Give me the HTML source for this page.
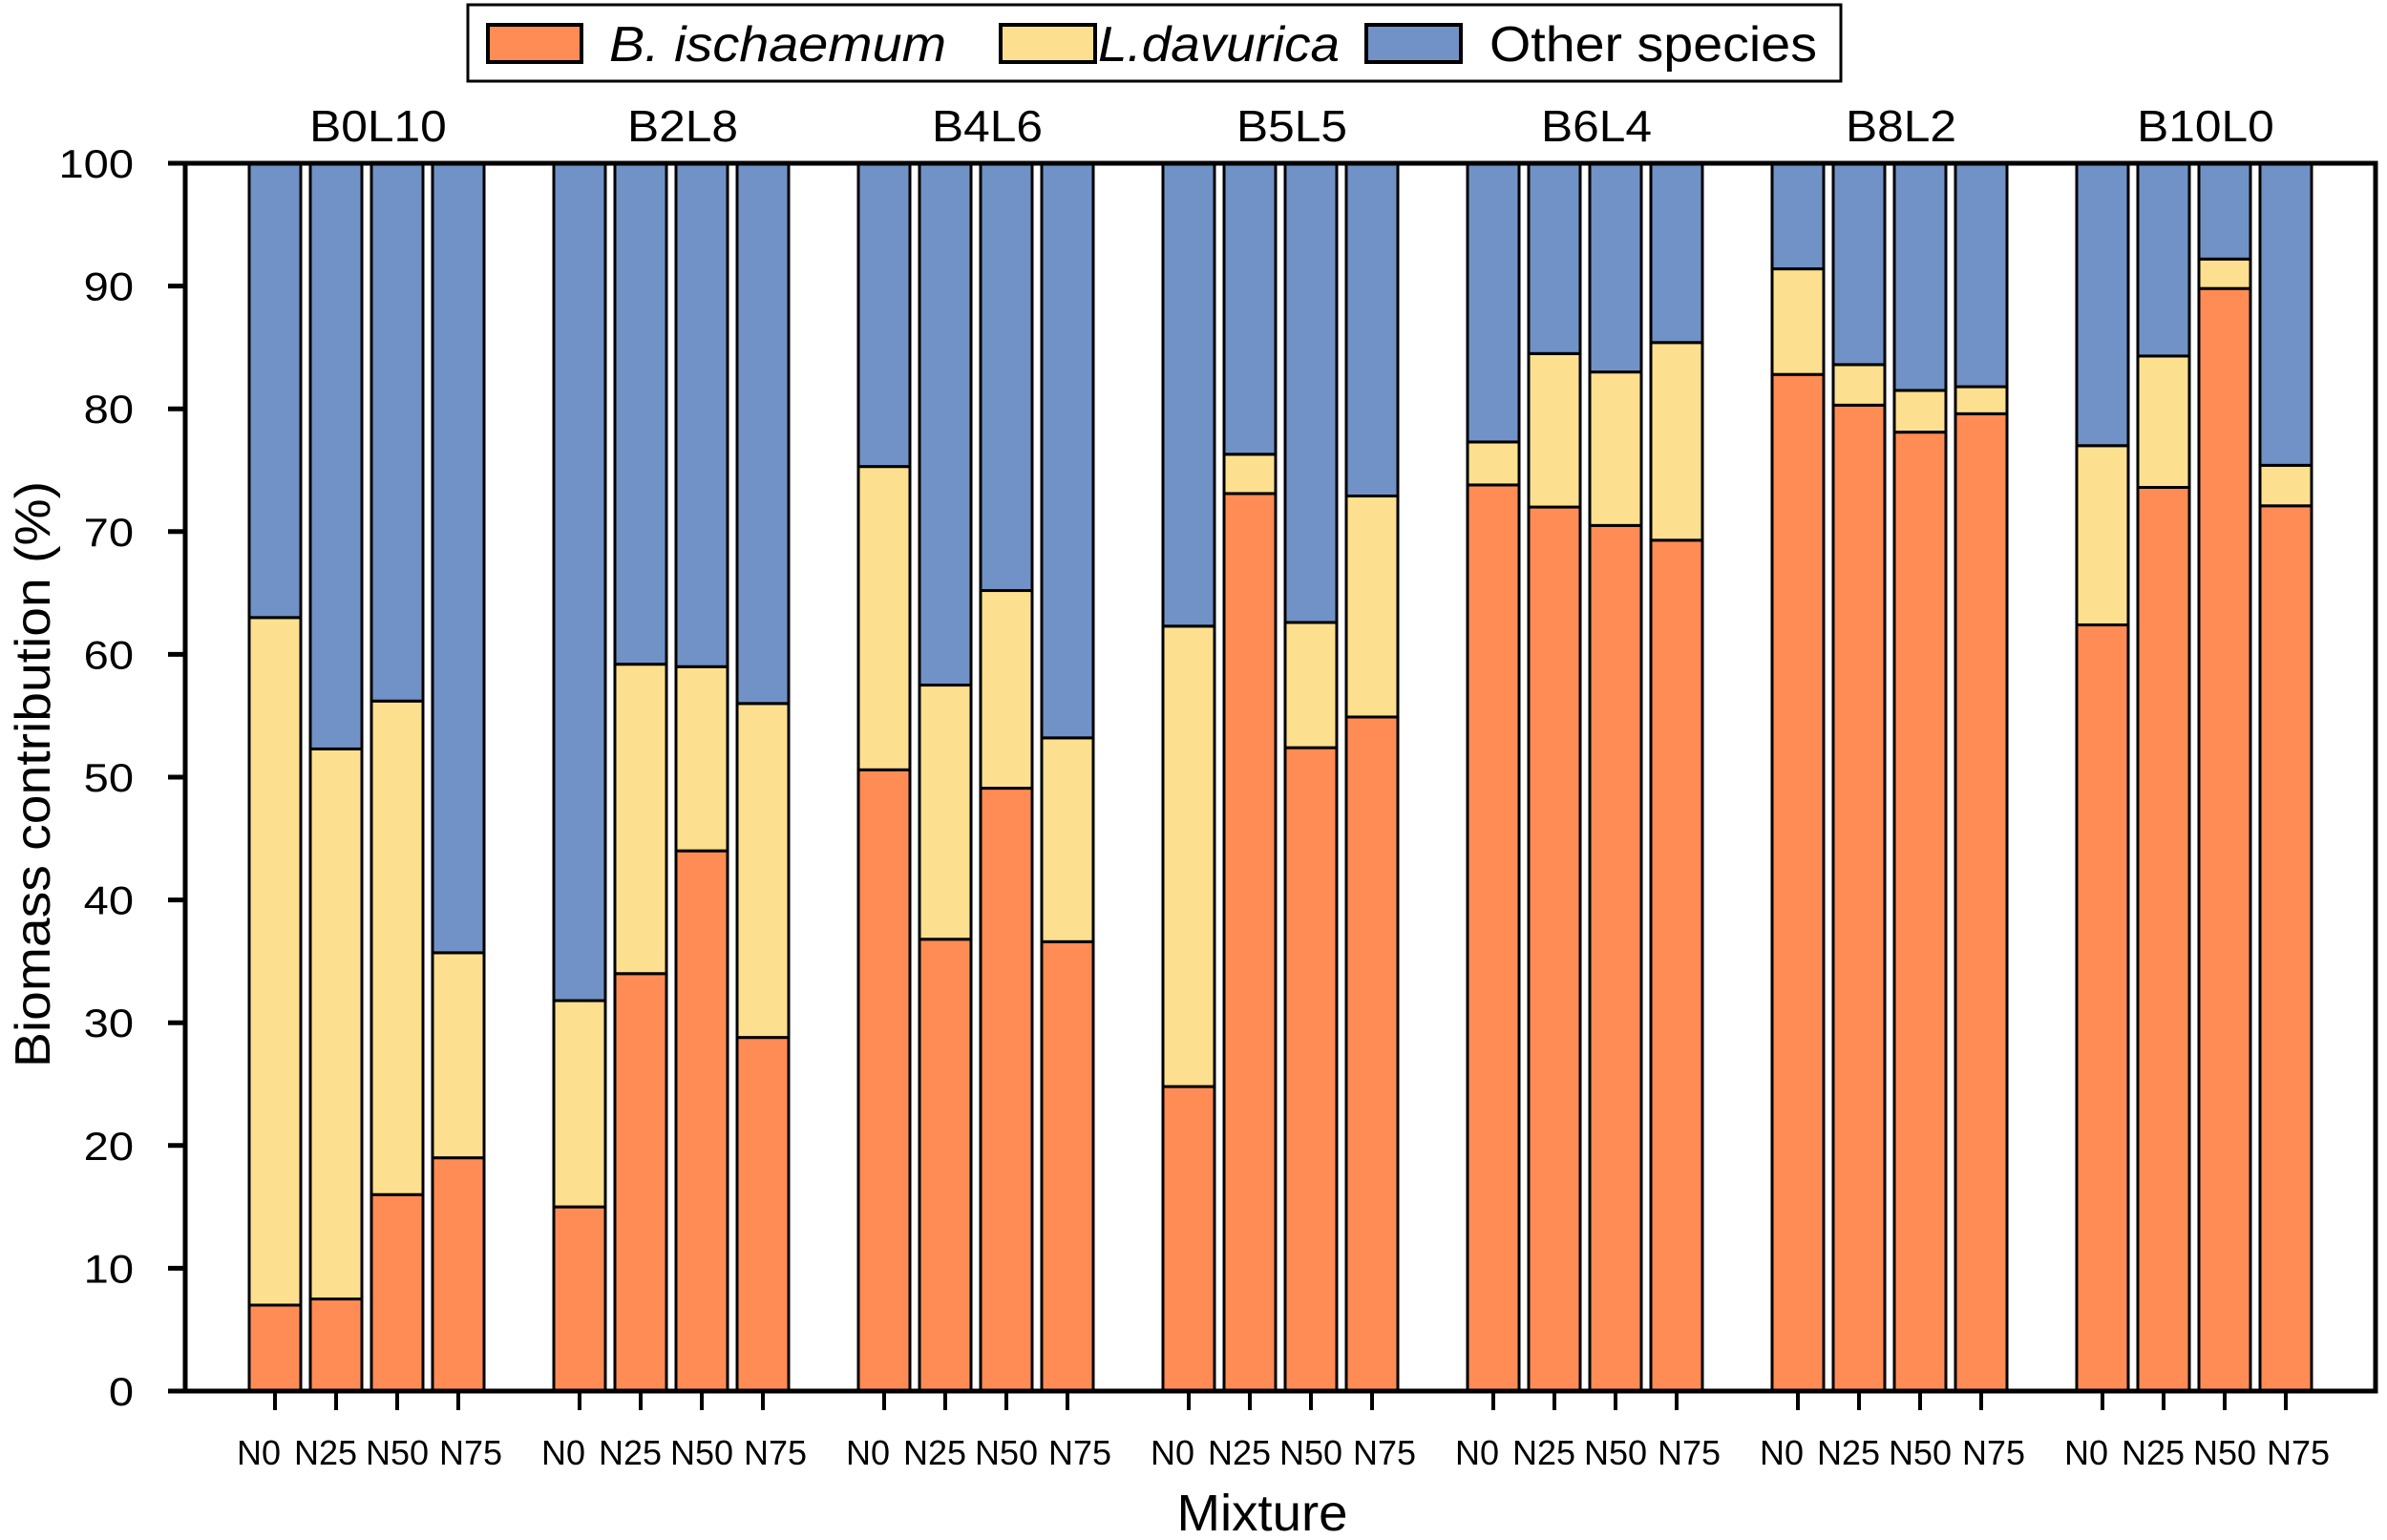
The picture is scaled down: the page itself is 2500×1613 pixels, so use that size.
<!DOCTYPE html>
<html><head><meta charset="utf-8"><style>
html,body{margin:0;padding:0;background:#fff;}
svg{display:block;font-family:"Liberation Sans",Arial,sans-serif;}
</style></head><body>
<svg id="chart" width="2500" height="1613" viewBox="0 0 2500 1613">
<g>
<rect x="490" y="5" width="1438" height="80" fill="#fff" stroke="#000" stroke-width="3"/>
<rect x="511" y="26" width="98" height="39" fill="#FF8C55" stroke="#000" stroke-width="4"/>
<text x="638" y="64" font-size="52" font-style="italic" textLength="353" lengthAdjust="spacingAndGlyphs">B. ischaemum</text>
<rect x="1048" y="26" width="99" height="39" fill="#FDE08F" stroke="#000" stroke-width="4"/>
<text x="1150" y="64" font-size="52" font-style="italic" textLength="253" lengthAdjust="spacingAndGlyphs">L.davurica</text>
<rect x="1431" y="26" width="99" height="39" fill="#7092C6" stroke="#000" stroke-width="4"/>
<text x="1560" y="64" font-size="52" textLength="343" lengthAdjust="spacingAndGlyphs">Other species</text>
</g>
<g id="bars"></g>
<g id="axes"></g>
<text x="1322" y="1603" font-size="54" text-anchor="middle" textLength="179" lengthAdjust="spacingAndGlyphs">Mixture</text>
<text transform="translate(52,811) rotate(-90)" font-size="52" text-anchor="middle" textLength="614" lengthAdjust="spacingAndGlyphs">Biomass contribution (%)</text>
</svg>
<script>
const groups = ["B0L10","B2L8","B4L6","B5L5","B6L4","B8L2","B10L0"];
const treatments = ["N0","N25","N50","N75"];
const bIschaemum = [7,7.5,16,19, 15,34,44,28.8, 50.6,36.8,49.1,36.6, 24.8,73.1,52.4,54.9, 73.8,72,70.5,69.3, 82.8,80.3,78.1,79.6, 62.4,73.6,89.8,72.1];
const lDavurica = [56,44.8,40.2,16.7, 16.8,25.2,15,27.2, 24.7,20.7,16.1,16.6, 37.5,3.2,10.2,18, 3.5,12.5,12.5,16.1, 8.6,3.3,3.4,2.2, 14.6,10.7,2.4,3.3];
const otherSpecies = [37,47.7,43.8,64.3, 68.2,40.8,41,44, 24.7,42.5,34.8,46.8, 37.7,23.7,37.4,27.1, 22.7,15.5,17,14.6, 8.6,16.4,18.5,18.2, 23,15.7,7.8,24.6];
const yTicks = [0,10,20,30,40,50,60,70,80,90,100];

const NS="http://www.w3.org/2000/svg";
const X0=194, X1=2488, Y0=1457, Y1=171;
const y = v => Y0 - (v/100)*(Y0-Y1);
const barW=54, barPitch=64, groupPitch=319, firstLeft=261;
const labelShift=[-17,-11,0,13];
const xLeft = (g,t) => firstLeft + g*groupPitch + t*barPitch;
function mk(tag, attrs, parent){const e=document.createElementNS(NS,tag);for(const k in attrs)e.setAttribute(k,attrs[k]);parent.appendChild(e);return e;}
function widen(t,f){const w=t.getComputedTextLength();t.setAttribute('textLength',w*f);t.setAttribute('lengthAdjust','spacingAndGlyphs');}
const bars=document.getElementById('bars'), axes=document.getElementById('axes');
const colors=["#FF8C55","#FDE08F","#7092C6"];
const series=[bIschaemum,lDavurica,otherSpecies];
const snames=["b-ischaemum","l-davurica","other-species"];
groups.forEach((gname,g)=>{
  treatments.forEach((tn,t)=>{
    const i=g*4+t; let base=0;
    series.forEach((s,si)=>{
      const v = si===2 ? Math.max(0,100-bIschaemum[i]-lDavurica[i]) : s[i];
      const r=mk('rect',{x:xLeft(g,t),y:y(base+v),width:barW,height:y(base)-y(base+v),fill:colors[si],stroke:"#000","stroke-width":3},bars);
      
      
      base+=v;
    });
    const cx=xLeft(g,t)+barW/2;
    const tk=mk('line',{x1:cx,x2:cx,y1:Y0,y2:Y0+20,stroke:"#000","stroke-width":4},axes);
    
    
    const tl=mk('text',{x:cx+labelShift[t],y:1534,"font-size":36,"text-anchor":"middle"},axes);
    tl.textContent=tn;
    
    
  });
  const gl=mk('text',{x:xLeft(g,0)+(3*barPitch+barW)/2+12,y:148,"font-size":46,"text-anchor":"middle"},axes);
  gl.textContent=gname;
  
  
  widen(gl,1.08);
});
const frame=mk('rect',{x:X0,y:Y1,width:X1-X0,height:Y0-Y1,fill:"none",stroke:"#000","stroke-width":5},axes);


yTicks.forEach(v=>{
  const l=mk('line',{x1:X0-18,x2:X0,y1:y(v),y2:y(v),stroke:"#000","stroke-width":5},axes);
  
  
  const t=mk('text',{x:140,y:y(v)+15,"font-size":42,"text-anchor":"end"},axes);
  t.textContent=v;
  
  
  widen(t,1.12);
});
</script>
</body></html>
